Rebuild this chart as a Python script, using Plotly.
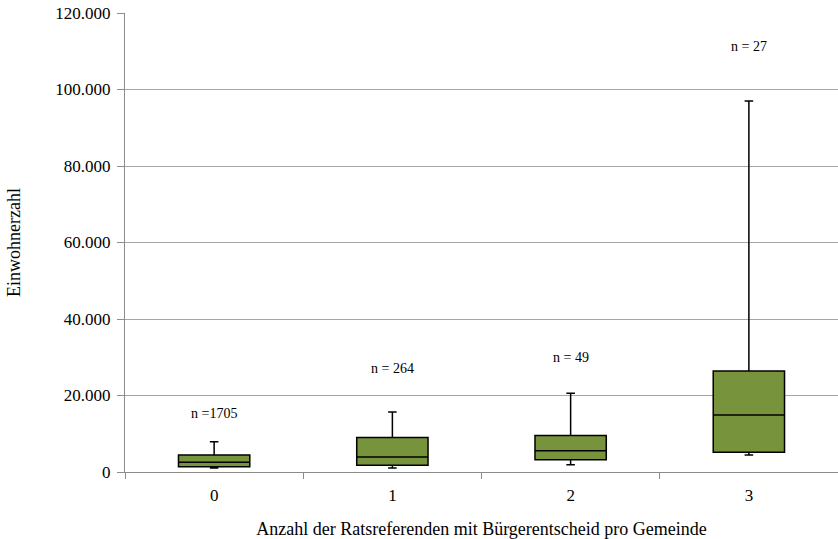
import plotly.graph_objects as go

categories = ["0", "1", "2", "3"]
lower_whisker = [1050, 1050, 1900, 4450]
q1 = [1400, 1750, 3200, 5150]
median = [2550, 3950, 5550, 14900]
q3 = [4450, 9000, 9550, 26400]
upper_whisker = [7900, 15700, 20600, 97000]
n_labels = ["n =1705", "n = 264", "n = 49", "n = 27"]
n_label_y = [15400, 27000, 30000, 111300]
y_ticks = [0, 20000, 40000, 60000, 80000, 100000, 120000]
y_tick_text = ["0", "20.000", "40.000", "60.000", "80.000", "100.000", "120.000"]

font_family = "Liberation Serif, Times New Roman, serif"

fig = go.Figure()
fig.add_trace(go.Box(
    x=categories,
    q1=q1, median=median, q3=q3,
    lowerfence=lower_whisker, upperfence=upper_whisker,
    fillcolor="#77933C",
    line=dict(color="black", width=1.5),
    whiskerwidth=0.12,
    width=0.4,
    boxpoints=False,
    hoverinfo="skip",
    showlegend=False,
))

for c, t, yv in zip(categories, n_labels, n_label_y):
    fig.add_annotation(x=c, y=yv, text=t, showarrow=False,
                       font=dict(family=font_family, size=14, color="black"))

fig.update_layout(
    width=838, height=539,
    margin=dict(l=125, r=0, t=13, b=67),
    plot_bgcolor="white", paper_bgcolor="white",
    font=dict(family=font_family, size=17, color="black"),
)
fig.update_xaxes(
    type="category",
    categoryorder="array", categoryarray=categories,
    range=[-0.5, 3.5],
    showline=True, linecolor="#8c8c8c", linewidth=1,
    ticks="outside", tickson="boundaries", ticklen=6, tickcolor="#8c8c8c",
    ticklabelstandoff=8,
    showgrid=False,
    automargin=False,
    title=dict(text="Anzahl der Ratsreferenden mit Bürgerentscheid pro Gemeinde",
               standoff=19, font=dict(size=18)),
    tickfont=dict(size=17),
)
fig.update_yaxes(
    range=[0, 120000],
    tickvals=y_ticks, ticktext=y_tick_text,
    showline=True, linecolor="#8c8c8c", linewidth=1,
    ticks="outside", ticklen=7, tickcolor="#8c8c8c",
    ticklabelstandoff=3,
    ticklabeloverflow="allow",
    showgrid=True, gridcolor="#a6a6a6", gridwidth=1,
    zeroline=False,
    automargin=False,
    title=dict(text="Einwohnerzahl", standoff=30, font=dict(size=18)),
    tickfont=dict(size=17),
)

fig.write_html("out.html", config={"displayModeBar": False},
               post_script="document.body.style.margin='0';")
